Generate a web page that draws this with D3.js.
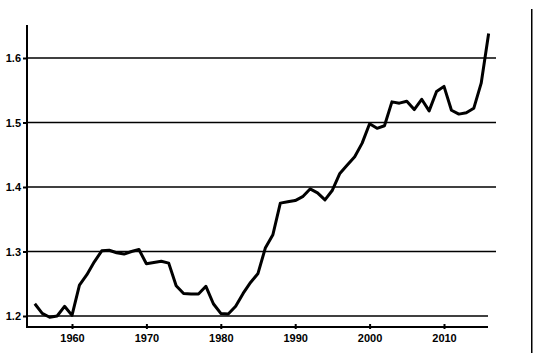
<!DOCTYPE html>
<html>
    <head>
        <script src="https://d3js.org/d3.v7.min.js"></script>
        <style>
         body { margin: 0; background: #fff; }
         svg { display: block; }
         text { font-family: "Liberation Sans", Arial, sans-serif; font-size: 11px; font-weight: bold; fill: #000; }
        </style>
    </head>
    <body>
        <svg width="534" height="353"></svg>
        <script>
         // values, one per year
         const years = d3.range(1955, 2017);
         const values = [
             1.219, 1.204, 1.198, 1.200, 1.215, 1.201, 1.248, 1.264, 1.284, 1.301,
             1.302, 1.298, 1.296, 1.300, 1.303, 1.281, 1.283, 1.285, 1.282, 1.247,
             1.235, 1.234, 1.234, 1.246, 1.219, 1.204, 1.203, 1.215, 1.235, 1.252,
             1.266, 1.306, 1.326, 1.375, 1.377, 1.379, 1.385, 1.397, 1.391, 1.380,
             1.395, 1.421, 1.434, 1.447, 1.468, 1.498, 1.491, 1.495, 1.532, 1.530,
             1.533, 1.520, 1.536, 1.518, 1.548, 1.556, 1.519, 1.513, 1.515, 1.522,
             1.561, 1.638
         ];
         const xTicks = [1960, 1970, 1980, 1990, 2000, 2010];
         const yTicks = [1.2, 1.3, 1.4, 1.5, 1.6];

         const svg = d3.select("svg");

         const x = d3.scaleLinear().domain([1960, 2010]).range([72, 444]);
         const y = d3.scaleLinear().domain([1.2, 1.6]).range([316, 58]);

         const frameLeft = 27, frameBottom = 327, frameTop = 25;
         const axisEnd = 488, gridEnd = 496;

         // horizontal grid lines
         svg.append("g")
            .selectAll("line")
            .data(yTicks)
            .join("line")
            .attr("x1", frameLeft)
            .attr("x2", d => d === 1.2 ? axisEnd : gridEnd)
            .attr("y1", d => y(d))
            .attr("y2", d => y(d))
            .attr("stroke", "#000")
            .attr("stroke-width", 1.6);

         // y axis, ticks and labels
         const yAxis = svg.append("g")
                          .attr("transform", `translate(${frameLeft},0)`)
                          .call(d3.axisLeft(y).tickValues(yTicks).tickSize(4).tickPadding(2).tickFormat(d3.format(".1f")));
         yAxis.select(".domain").remove();
         yAxis.selectAll(".tick line").attr("stroke-width", 2);
         yAxis.selectAll("text").attr("font-family", null).attr("font-size", null);

         // x axis, ticks and labels
         const xAxis = svg.append("g")
                          .attr("transform", `translate(0,${frameBottom})`)
                          .call(d3.axisBottom(x).tickValues(xTicks).tickSize(2).tickPadding(5).tickFormat(d3.format("d")));
         xAxis.select(".domain").remove();
         xAxis.selectAll(".tick line").attr("y1", -3).attr("stroke-width", 2);
         xAxis.selectAll("text").attr("font-family", null).attr("font-size", null);

         // axis frame, left and bottom
         svg.append("rect")
            .attr("x", frameLeft - 1).attr("y", frameTop)
            .attr("width", 2).attr("height", frameBottom - frameTop + 1)
            .attr("fill", "#000");
         svg.append("rect")
            .attr("x", frameLeft - 1).attr("y", frameBottom - 1)
            .attr("width", axisEnd - frameLeft + 1).attr("height", 2)
            .attr("fill", "#000");

         // the series
         const line = d3.line()
                        .x((d, i) => x(years[i]))
                        .y(d => y(d));
         svg.append("path")
            .datum(values)
            .attr("d", line)
            .attr("fill", "none")
            .attr("stroke", "#000")
            .attr("stroke-width", 3)
            .attr("stroke-linejoin", "round");

         // edge of the scanned page
         svg.append("rect")
            .attr("x", 531).attr("y", 9)
            .attr("width", 1.5).attr("height", 344)
            .attr("fill", "#000");
        </script>
    </body>
</html>
